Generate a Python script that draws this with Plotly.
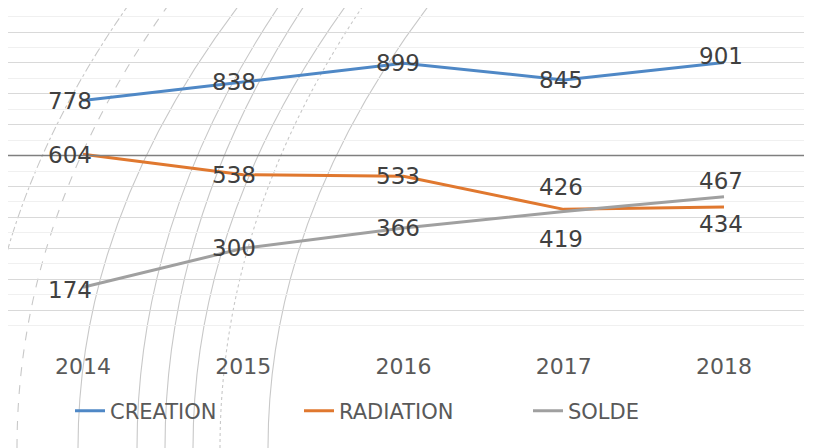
import plotly.graph_objects as go

years = ["2014", "2015", "2016", "2017", "2018"]
creation = [778, 838, 899, 845, 901]
radiation = [604, 538, 533, 426, 434]
solde = [174, 300, 366, 419, 467]

# label offsets in px (positive = up / right)
creation_shift = [0, 0, 0, 0, 7]
radiation_shift = [-1, 0, 0, 22, -17]
solde_shift = [-3, 0, 0, -27, 16]
label_xshift = [-13, -9, -6, -3, -3]

# page is offset by the 8px default body margin
OFF = 8
W, H = 834 - OFF, 448 - OFF
PX0, PX1 = 8, 804      # plot area, page px
PY0, PY1 = 8, 341
L, T = PX0 - OFF, PY0 - OFF
R = W - (PX1 - OFF)
B = H - (PY1 - OFF)
PW, PH = PX1 - PX0, PY1 - PY0

SCALE = 0.309           # px per unit
CAT = 160.25            # px per category
X_FIRST = 83            # page x of first category

label_font = dict(family="DejaVu Sans", size=23, color="#404040")

series = [
    ("CREATION", creation, creation_shift, "#4f88c6"),
    ("RADIATION", radiation, radiation_shift, "#e0782f"),
    ("SOLDE", solde, solde_shift, "#a0a0a0"),
]

fig = go.Figure()
annotations = []
for name, vals, shifts, color in series:
    fig.add_trace(go.Scatter(x=years, y=vals, name=name, mode="lines",
                             line=dict(color=color, width=3)))
    for i, (v, s, xs) in enumerate(zip(vals, shifts, label_xshift)):
        annotations.append(dict(x=i, y=v, xref="x", yref="y", text=str(v), showarrow=False,
                                yshift=s, xshift=xs, xanchor="center", yanchor="middle",
                                font=label_font))


def px(x):
    return (x - PX0) / PW


def py(y):
    return (PY1 - y) / PH


# decorative background arcs (bottom x, top x, dash style), page px
arcs = [(-21, 132, "dashdot"), (17, 172, "dash"), (78, 243, "solid"), (137, 283, "solid"),
        (165, 308, "solid"), (193, 350, "solid"), (220, 367, "dot"), (268, 433, "solid")]
shapes = []
for xb, xt, dash in arcs:
    path = f"M {px(xb)} {py(448)} Q {px(xb)} {py(215)} {px(xt)} {py(0)}"
    shapes.append(dict(type="path", path=path, xref="paper", yref="paper", layer="below",
                       line=dict(color="#c8c8c8", width=1.1, dash=dash)))
shapes.append(dict(type="line", xref="paper", yref="y", x0=0, x1=1, y0=600, y1=600,
                   layer="above", line=dict(color="#7f7f7f", width=1.5)))

x_lo = -0.5 + (PX0 - (X_FIRST - CAT / 2)) / CAT
x_hi = x_lo + PW / CAT

fig.update_layout(
    width=W, height=H, margin=dict(l=L, r=R, t=T, b=B, autoexpand=False),
    paper_bgcolor="white", plot_bgcolor="white",
    shapes=shapes, annotations=annotations,
    showlegend=True,
    legend=dict(orientation="h", x=px(70), xanchor="left", y=py(411), yanchor="middle",
                font=dict(family="DejaVu Sans", size=21, color="#595959"),
                entrywidth=184, bgcolor="rgba(0,0,0,0)"),
    xaxis=dict(type="category", range=[x_lo, x_hi], showgrid=False, zeroline=False,
               showline=False, tickfont=dict(family="DejaVu Sans", size=22, color="#595959"),
               ticks="", ticklabelstandoff=10),
    yaxis=dict(range=[0, PH / SCALE], dtick=100, showticklabels=False, zeroline=False,
               showgrid=True, gridcolor="#d9d9d9", gridwidth=1.2,
               minor=dict(dtick=50, showgrid=True, gridcolor="#f0f0f0", gridwidth=1)),
)

fig.write_html("out.html")
